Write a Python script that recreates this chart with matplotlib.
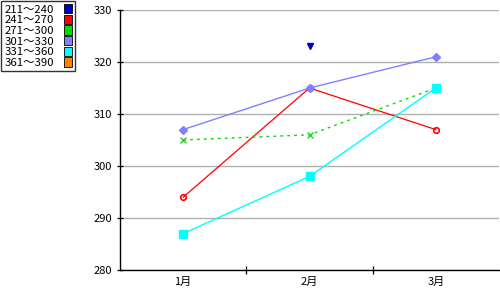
import matplotlib
matplotlib.use("Agg")
import matplotlib.pyplot as plt
import numpy as np

plt.rcParams['font.family'] = ['Noto Sans CJK JP', 'DejaVu Sans']

months = ["1月", "2月", "3月"]
series_names = ["211～240", "241～270", "271～300", "301～330", "331～360", "361～390"]
s211 = [np.nan, 323, np.nan]
s241 = [294, 315, 307]
s271 = [305, 306, 315]
s301 = [307, 315, 321]
s331 = [287, 298, 315]
s361 = [np.nan, np.nan, np.nan]
y_ticks = [280, 290, 300, 310, 320, 330]

colors = ["#0000cc", "#ff0000", "#00dd00", "#8080ff", "#00ffff", "#ff8000"]

fig = plt.figure(figsize=(5, 3), dpi=100)
ax = fig.add_axes([0.24, 0.1, 0.758, 0.8667])
x = np.arange(len(months))

ax.plot(x, s241, color=colors[1], lw=0.9, marker='o', ms=4, mfc='none', mec=colors[1], mew=1.2, zorder=3)
ax.plot(x, s271, color=colors[2], lw=1.0, ls=(0, (2, 3)), marker='x', ms=5, mew=0.9, zorder=3)
ax.plot(x, s301, color=colors[3], lw=1.0, marker='D', ms=4, zorder=4)
ax.plot(x, s331, color=colors[4], lw=1.0, marker='s', ms=5.5, zorder=5)
ax.plot(x, s211, color=colors[0], lw=1.0, marker='v', ms=4, zorder=6, ls='none')

ax.set_xlim(-0.5, 2.5)
ax.set_ylim(280, 330)
ax.set_yticks(y_ticks)
ax.set_yticklabels([str(v) for v in y_ticks], fontsize=8)
ax.set_xticks(x)
ax.set_xticklabels(months, fontsize=8)
ax.tick_params(axis='x', length=0, pad=5)
ax.set_xticks([0.5, 1.5], minor=True)
ax.tick_params(axis='x', which='minor', length=6, direction='inout', width=0.9)
ax.tick_params(axis='y', length=5, direction='inout', width=0.9, pad=3)
ax.grid(axis='y', color='#b0b0b0', lw=1.0)
ax.set_axisbelow(True)
for s in ['top', 'right']:
    ax.spines[s].set_visible(False)
ax.spines['left'].set_linewidth(1.0)
ax.spines['bottom'].set_linewidth(1.0)

# legend box
from matplotlib.patches import Patch
handles = [Patch(facecolor=c, edgecolor='black', lw=0.6) for c in colors]
leg = fig.legend(handles, series_names, loc='upper left', bbox_to_anchor=(0.002, 0.998),
                 fontsize=8.2, frameon=True, fancybox=False, edgecolor='black',
                 handlelength=0.65, handleheight=0.9, handletextpad=0.9, markerfirst=False,
                 labelspacing=0.0, borderpad=0.3, borderaxespad=0)
leg.get_frame().set_linewidth(1.0)

fig.savefig("out.png", dpi=100)
